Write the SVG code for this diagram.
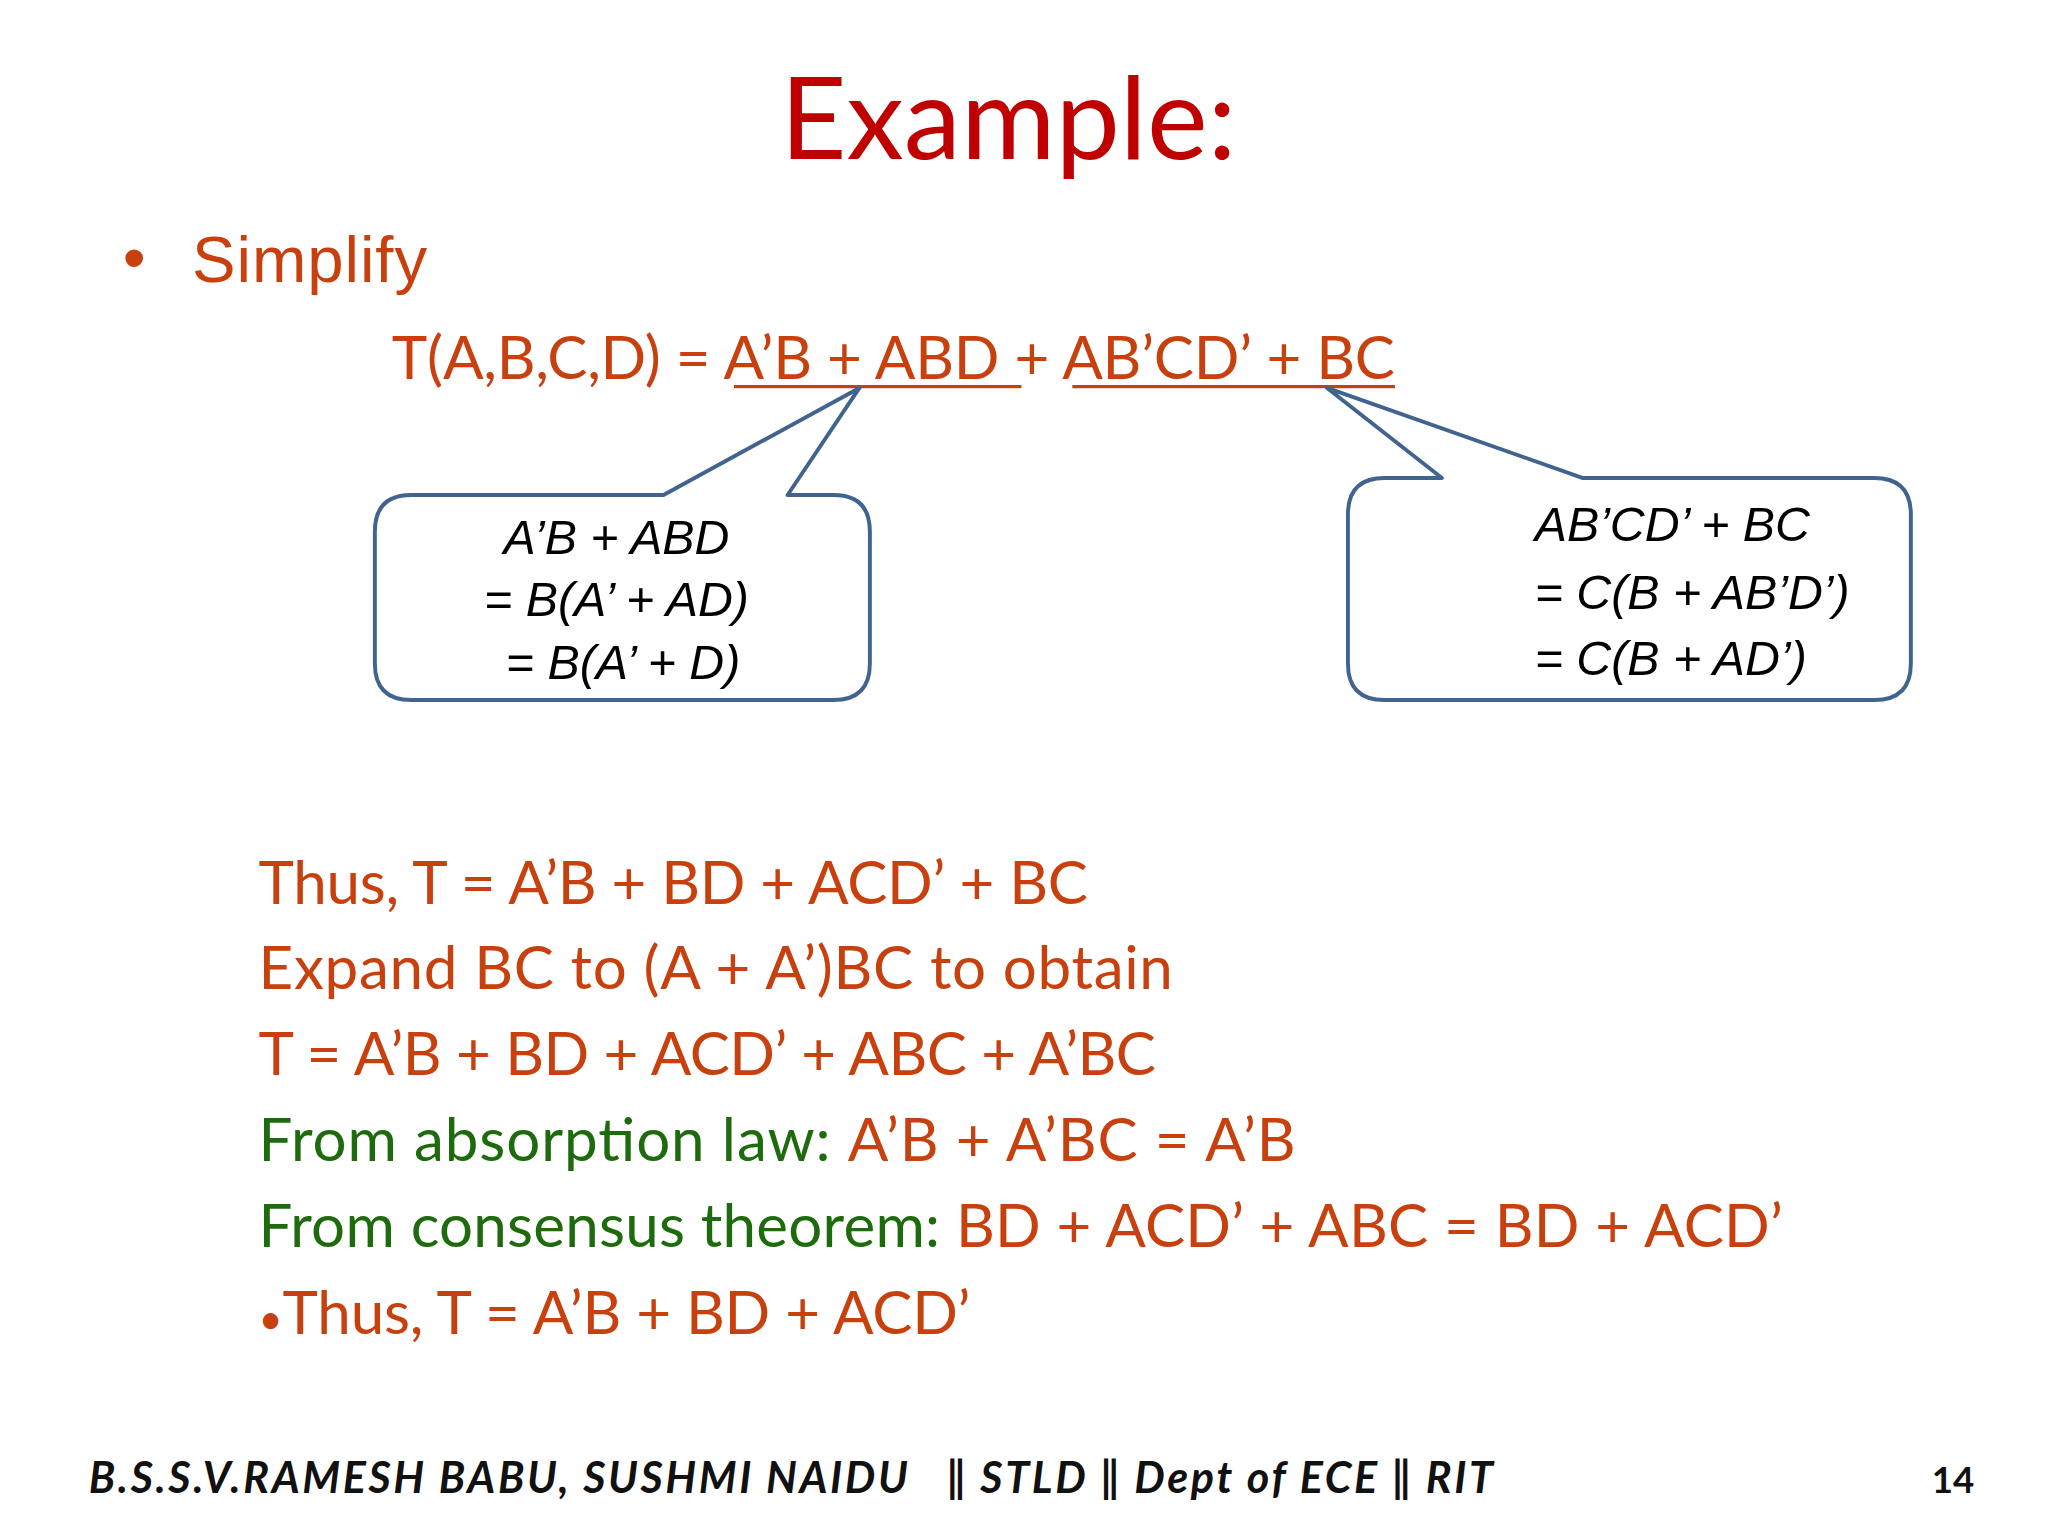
<svg xmlns="http://www.w3.org/2000/svg" width="2048" height="1536" viewBox="0 0 2048 1536">
<style>
.c{font-family:Lato,"Open Sans",sans-serif;fill:#C8400E}
.g{fill:#1E6B0E}
.a{font-family:"Liberation Sans",Arial,sans-serif;font-style:italic;font-size:37px;fill:#000}
.box{fill:#fff;stroke:#41648F;stroke-width:3;stroke-linejoin:round}
</style>
<rect width="2048" height="1536" fill="#fff"/>
<g transform="scale(1.30612)">
<text x="772" y="122" text-anchor="middle" font-family="Lato,sans-serif" font-size="88" fill="#C00000">Example:</text>
<text x="94" y="214" font-family="'Liberation Sans',Arial,sans-serif" font-size="50" fill="#C8400E">•</text>
<text x="147" y="216" font-family="'Liberation Sans',Arial,sans-serif" font-size="50" fill="#C8400E" textLength="180">Simplify</text>
<text class="c" x="300" y="290" font-size="46" textLength="768">T(A,B,C,D) = A’B + ABD + AB’CD’ + BC</text>
<g stroke="#C8400E" stroke-width="2.5"><line x1="562" y1="296" x2="782" y2="296"/><line x1="821" y1="296" x2="1068" y2="296"/></g>
<g id="left-callout">
<path class="box" d="M315,379 H508 L658,297 L603,379 H638 Q666,379 666,407 V508 Q666,536 638,536 H315 Q287,536 287,508 V407 Q287,379 315,379 Z"/>
<text class="a" x="472" y="424" text-anchor="middle">A’B + ABD</text>
<text class="a" x="472" y="472" text-anchor="middle">= B(A’ + AD)</text>
<text class="a" x="477" y="520" text-anchor="middle">= B(A’ + D)</text>
</g>
<g id="right-callout">
<path class="box" d="M1060,366 H1104 L1016,297 L1212,366 H1435 Q1463,366 1463,394 V508 Q1463,536 1435,536 H1060 Q1032,536 1032,508 V394 Q1032,366 1060,366 Z"/>
<text class="a" x="1175" y="414">AB’CD’ + BC</text>
<text class="a" x="1175" y="466">= C(B + AB’D’)</text>
<text class="a" x="1175" y="517">= C(B + AD’)</text>
</g>
<g class="c" font-size="46">
<text x="198" y="692" textLength="635">Thus, T = A’B + BD + ACD’ + BC</text>
<text x="198" y="757" textLength="700">Expand BC to (A + A’)BC to obtain</text>
<text x="198" y="823" textLength="687">T = A’B + BD + ACD’ + ABC + A’BC</text>
<text x="198" y="889" textLength="794"><tspan class="g">From absorption law: </tspan>A’B + A’BC = A’B</text>
<text x="198" y="955" textLength="1167"><tspan class="g">From consensus theorem: </tspan>BD + ACD’ + ABC = BD + ACD’</text>
<text x="198" y="1021" textLength="545"><tspan font-size="32">•</tspan>Thus, T = A’B + BD + ACD’</text>
</g>
<text x="68" y="1143" font-family="Lato,sans-serif" font-weight="bold" font-style="italic" font-size="33" fill="#111" xml:space="preserve" textLength="1075">B.S.S.V.RAMESH BABU, SUSHMI NAIDU   ‖ STLD ‖ Dept of ECE ‖ RIT</text>
<text x="1479" y="1143" font-family="Lato,sans-serif" font-weight="bold" font-size="28" fill="#111">14</text>
</g>
</svg>
